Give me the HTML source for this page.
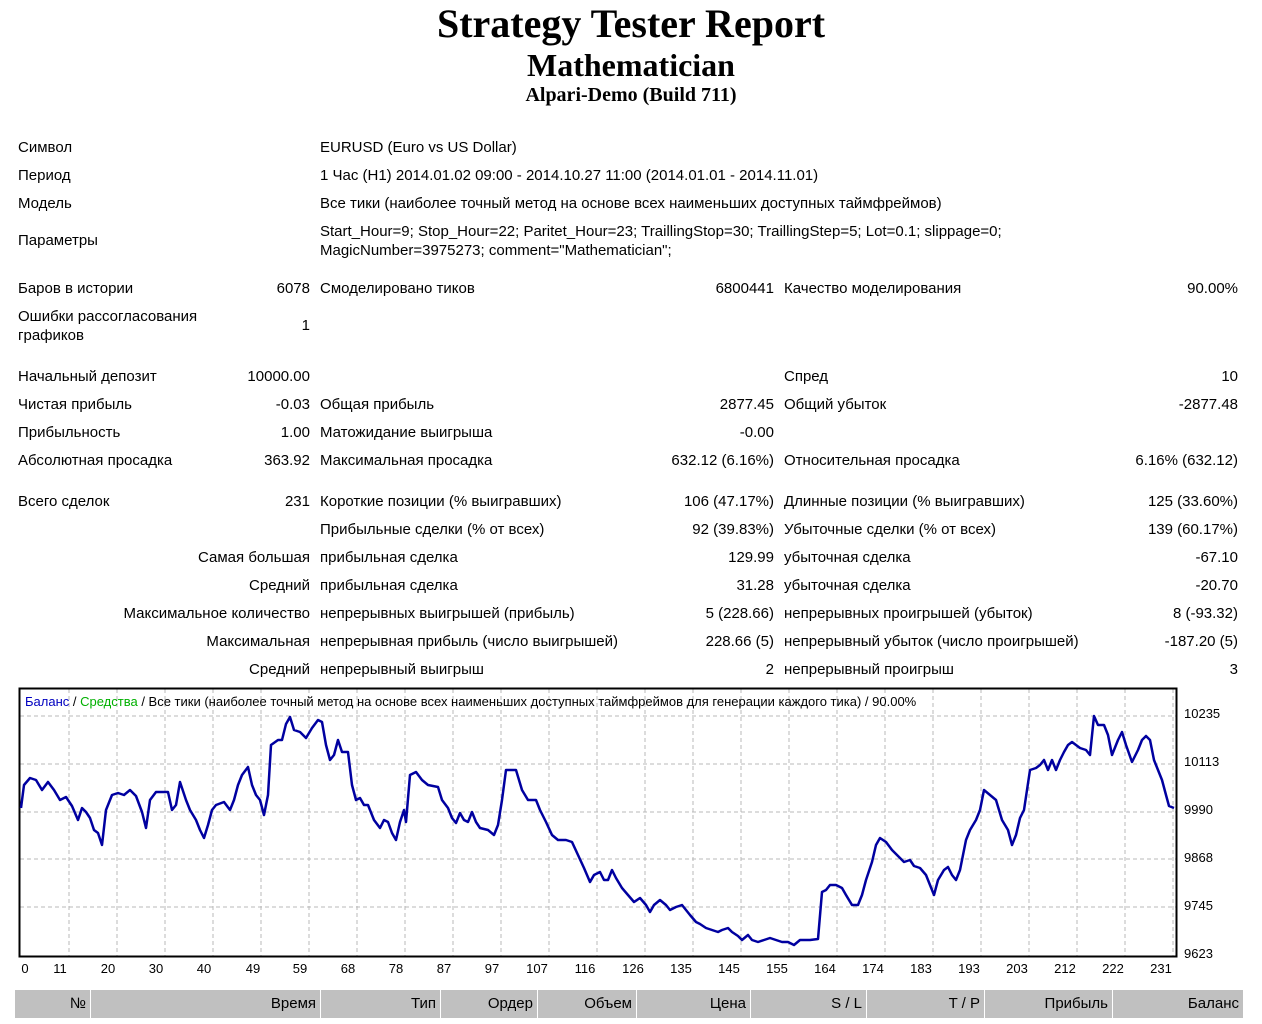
<!DOCTYPE html>
<html><head><meta charset="utf-8"><style>
body{margin:0;width:1262px;height:1024px;background:#fff;position:relative;overflow:hidden;font-family:"Liberation Sans","DejaVu Sans",sans-serif;font-size:15px;color:#000}
.t{position:absolute;white-space:nowrap;line-height:18px}
.r{text-align:right}
.h{position:absolute;left:0;width:1262px;text-align:center;font-family:"Liberation Serif",serif;font-weight:bold}
.hd{position:absolute;top:990px;height:28px;background:#c0c0c0;line-height:28px;text-align:right;box-sizing:border-box;padding-right:4px;font-size:15px}
#w{position:absolute;left:0;top:2px;width:1262px;height:700px}
</style></head><body>
<div class="h" style="top:1px;font-size:40px;line-height:46px">Strategy Tester Report</div>
<div class="h" style="top:47px;font-size:32px;line-height:36px">Mathematician</div>
<div class="h" style="top:84px;font-size:20px;line-height:23px">Alpari-Demo (Build 711)</div>

<div id="w">
<div class="t" style="left:18px;top:137px">Символ</div>
<div class="t" style="left:320px;top:137px">EURUSD (Euro vs US Dollar)</div>
<div class="t" style="left:18px;top:165px">Период</div>
<div class="t" style="left:320px;top:165px">1 Час (H1) 2014.01.02 09:00 - 2014.10.27 11:00 (2014.01.01 - 2014.11.01)</div>
<div class="t" style="left:18px;top:193px">Модель</div>
<div class="t" style="left:320px;top:193px">Все тики (наиболее точный метод на основе всех наименьших доступных таймфреймов)</div>
<div class="t" style="left:18px;top:230px">Параметры</div>
<div class="t" style="left:320px;top:221px">Start_Hour=9; Stop_Hour=22; Paritet_Hour=23; TraillingStop=30; TraillingStep=5; Lot=0.1; slippage=0;</div>
<div class="t" style="left:320px;top:240px">MagicNumber=3975273; comment="Mathematician";</div>

<div class="t" style="left:18px;top:278px">Баров в истории</div>
<div class="t r" style="right:952px;top:278px">6078</div>
<div class="t" style="left:320px;top:278px">Смоделировано тиков</div>
<div class="t r" style="right:488px;top:278px">6800441</div>
<div class="t" style="left:784px;top:278px">Качество моделирования</div>
<div class="t r" style="right:24px;top:278px">90.00%</div>

<div class="t" style="left:18px;top:306px">Ошибки рассогласования</div>
<div class="t" style="left:18px;top:325px">графиков</div>
<div class="t r" style="right:952px;top:315px">1</div>

<div class="t" style="left:18px;top:366px">Начальный депозит</div>
<div class="t r" style="right:952px;top:366px">10000.00</div>
<div class="t" style="left:784px;top:366px">Спред</div>
<div class="t r" style="right:24px;top:366px">10</div>

<div class="t" style="left:18px;top:394px">Чистая прибыль</div>
<div class="t r" style="right:952px;top:394px">-0.03</div>
<div class="t" style="left:320px;top:394px">Общая прибыль</div>
<div class="t r" style="right:488px;top:394px">2877.45</div>
<div class="t" style="left:784px;top:394px">Общий убыток</div>
<div class="t r" style="right:24px;top:394px">-2877.48</div>

<div class="t" style="left:18px;top:422px">Прибыльность</div>
<div class="t r" style="right:952px;top:422px">1.00</div>
<div class="t" style="left:320px;top:422px">Матожидание выигрыша</div>
<div class="t r" style="right:488px;top:422px">-0.00</div>

<div class="t" style="left:18px;top:450px">Абсолютная просадка</div>
<div class="t r" style="right:952px;top:450px">363.92</div>
<div class="t" style="left:320px;top:450px">Максимальная просадка</div>
<div class="t r" style="right:488px;top:450px">632.12 (6.16%)</div>
<div class="t" style="left:784px;top:450px">Относительная просадка</div>
<div class="t r" style="right:24px;top:450px">6.16% (632.12)</div>

<div class="t" style="left:18px;top:491px">Всего сделок</div>
<div class="t r" style="right:952px;top:491px">231</div>
<div class="t" style="left:320px;top:491px">Короткие позиции (% выигравших)</div>
<div class="t r" style="right:488px;top:491px">106 (47.17%)</div>
<div class="t" style="left:784px;top:491px">Длинные позиции (% выигравших)</div>
<div class="t r" style="right:24px;top:491px">125 (33.60%)</div>

<div class="t" style="left:320px;top:519px">Прибыльные сделки (% от всех)</div>
<div class="t r" style="right:488px;top:519px">92 (39.83%)</div>
<div class="t" style="left:784px;top:519px">Убыточные сделки (% от всех)</div>
<div class="t r" style="right:24px;top:519px">139 (60.17%)</div>

<div class="t r" style="right:952px;top:547px">Самая большая</div>
<div class="t" style="left:320px;top:547px">прибыльная сделка</div>
<div class="t r" style="right:488px;top:547px">129.99</div>
<div class="t" style="left:784px;top:547px">убыточная сделка</div>
<div class="t r" style="right:24px;top:547px">-67.10</div>

<div class="t r" style="right:952px;top:575px">Средний</div>
<div class="t" style="left:320px;top:575px">прибыльная сделка</div>
<div class="t r" style="right:488px;top:575px">31.28</div>
<div class="t" style="left:784px;top:575px">убыточная сделка</div>
<div class="t r" style="right:24px;top:575px">-20.70</div>

<div class="t r" style="right:952px;top:603px">Максимальное количество</div>
<div class="t" style="left:320px;top:603px">непрерывных выигрышей (прибыль)</div>
<div class="t r" style="right:488px;top:603px">5 (228.66)</div>
<div class="t" style="left:784px;top:603px">непрерывных проигрышей (убыток)</div>
<div class="t r" style="right:24px;top:603px">8 (-93.32)</div>

<div class="t r" style="right:952px;top:631px">Максимальная</div>
<div class="t" style="left:320px;top:631px">непрерывная прибыль (число выигрышей)</div>
<div class="t r" style="right:488px;top:631px">228.66 (5)</div>
<div class="t" style="left:784px;top:631px">непрерывный убыток (число проигрышей)</div>
<div class="t r" style="right:24px;top:631px">-187.20 (5)</div>

<div class="t r" style="right:952px;top:659px">Средний</div>
<div class="t" style="left:320px;top:659px">непрерывный выигрыш</div>
<div class="t r" style="right:488px;top:659px">2</div>
<div class="t" style="left:784px;top:659px">непрерывный проигрыш</div>
<div class="t r" style="right:24px;top:659px">3</div>
</div>

<svg style="position:absolute;left:0;top:0" width="1262" height="1024" font-family="Liberation Sans, DejaVu Sans, sans-serif">
<g stroke="#b8b8b8" stroke-width="1" stroke-dasharray="4,3">
<line x1="20" y1="716" x2="1176" y2="716"/><line x1="20" y1="764" x2="1176" y2="764"/><line x1="20" y1="812" x2="1176" y2="812"/><line x1="20" y1="859" x2="1176" y2="859"/><line x1="20" y1="907" x2="1176" y2="907"/>
<line x1="69" y1="689" x2="69" y2="956"/><line x1="117" y1="689" x2="117" y2="956"/><line x1="165" y1="689" x2="165" y2="956"/><line x1="213" y1="689" x2="213" y2="956"/><line x1="261" y1="689" x2="261" y2="956"/><line x1="309" y1="689" x2="309" y2="956"/><line x1="357" y1="689" x2="357" y2="956"/><line x1="405" y1="689" x2="405" y2="956"/><line x1="453" y1="689" x2="453" y2="956"/><line x1="501" y1="689" x2="501" y2="956"/><line x1="549" y1="689" x2="549" y2="956"/><line x1="597" y1="689" x2="597" y2="956"/><line x1="645" y1="689" x2="645" y2="956"/><line x1="693" y1="689" x2="693" y2="956"/><line x1="741" y1="689" x2="741" y2="956"/><line x1="789" y1="689" x2="789" y2="956"/><line x1="837" y1="689" x2="837" y2="956"/><line x1="885" y1="689" x2="885" y2="956"/><line x1="933" y1="689" x2="933" y2="956"/><line x1="981" y1="689" x2="981" y2="956"/><line x1="1029" y1="689" x2="1029" y2="956"/><line x1="1077" y1="689" x2="1077" y2="956"/><line x1="1125" y1="689" x2="1125" y2="956"/><line x1="1173" y1="689" x2="1173" y2="956"/>
</g>
<rect x="19.5" y="688.5" width="1157" height="268" fill="none" stroke="#000" stroke-width="2"/>
<polyline fill="none" stroke="#0000a0" stroke-width="2.5" stroke-linejoin="round" points="21,808 24,785 30,778 36,780 42,790 48,782 54,790 60,800 66,797 72,806 78,820 82,808 86,812 90,818 94,830 98,833 102,845 106,810 112,795 118,793 124,795 130,790 136,796 142,812 146,828 150,800 156,792 168,792 172,810 176,805 180,782 186,800 190,810 196,820 200,830 204,838 208,825 212,810 216,805 224,802 230,810 234,800 238,785 242,775 248,767 252,785 256,795 260,800 264,815 268,795 271,745 278,740 282,740 286,724 290,717 294,730 300,732 306,738 312,728 318,720 322,722 326,745 330,760 334,755 338,740 342,752 348,752 352,785 356,800 360,798 364,805 368,805 374,820 380,828 384,820 388,822 392,833 396,840 400,822 404,810 406,822 410,775 416,772 422,780 428,785 438,787 442,800 448,808 452,818 456,823 460,813 464,820 468,822 472,812 476,822 480,828 488,830 494,835 498,825 502,800 506,770 516,770 522,790 528,800 536,800 540,810 546,822 552,835 558,840 566,840 572,842 578,855 584,868 590,882 594,875 600,872 604,880 608,880 612,870 616,878 622,888 628,895 634,902 640,898 646,905 650,912 654,905 660,900 666,905 670,910 676,907 682,905 686,910 690,915 696,922 700,924 706,928 712,930 718,932 722,930 728,928 732,932 738,936 742,940 748,935 752,940 758,942 764,940 770,938 776,940 782,942 788,942 794,945 800,940 810,940 818,939 822,892 826,890 830,885 836,885 842,888 846,895 852,905 858,905 862,895 866,880 872,862 876,845 880,838 886,842 892,850 898,856 904,862 910,860 914,866 920,868 926,875 930,885 934,895 938,880 944,870 948,867 952,875 956,880 960,870 966,840 970,830 976,820 980,810 984,790 990,795 996,800 1002,820 1008,830 1012,845 1016,835 1020,818 1024,810 1030,770 1036,768 1040,765 1044,760 1048,770 1052,760 1056,770 1060,760 1064,752 1068,745 1072,742 1076,745 1080,748 1086,750 1090,755 1094,716 1098,725 1104,725 1108,735 1112,755 1118,740 1122,732 1126,745 1132,762 1138,750 1142,740 1146,736 1150,740 1154,760 1158,770 1162,780 1166,795 1169,806 1174,808"/>
<text x="25" y="706" font-size="13"><tspan fill="#0000c0">Баланс</tspan> / <tspan fill="#00b000">Средства</tspan> / Все тики (наиболее точный метод на основе всех наименьших доступных таймфреймов для генерации каждого тика) / 90.00%</text>
<g font-size="13" fill="#000">
<text x="1184" y="718">10235</text><text x="1184" y="766">10113</text><text x="1184" y="814">9990</text><text x="1184" y="862">9868</text><text x="1184" y="910">9745</text><text x="1184" y="958">9623</text>
</g>
<g font-size="13" fill="#000" text-anchor="middle">
<text x="25" y="973">0</text><text x="60" y="973">11</text><text x="108" y="973">20</text><text x="156" y="973">30</text><text x="204" y="973">40</text><text x="253" y="973">49</text><text x="300" y="973">59</text><text x="348" y="973">68</text><text x="396" y="973">78</text><text x="444" y="973">87</text><text x="492" y="973">97</text><text x="537" y="973">107</text><text x="585" y="973">116</text><text x="633" y="973">126</text><text x="681" y="973">135</text><text x="729" y="973">145</text><text x="777" y="973">155</text><text x="825" y="973">164</text><text x="873" y="973">174</text><text x="921" y="973">183</text><text x="969" y="973">193</text><text x="1017" y="973">203</text><text x="1065" y="973">212</text><text x="1113" y="973">222</text><text x="1161" y="973">231</text>
</g>
</svg>

<div class="hd" style="left:15px;width:75px">№</div>
<div class="hd" style="left:91px;width:229px">Время</div>
<div class="hd" style="left:321px;width:119px">Тип</div>
<div class="hd" style="left:441px;width:96px">Ордер</div>
<div class="hd" style="left:538px;width:98px">Объем</div>
<div class="hd" style="left:637px;width:113px">Цена</div>
<div class="hd" style="left:751px;width:115px">S / L</div>
<div class="hd" style="left:867px;width:117px">T / P</div>
<div class="hd" style="left:985px;width:127px">Прибыль</div>
<div class="hd" style="left:1113px;width:130px">Баланс</div>
</body></html>
